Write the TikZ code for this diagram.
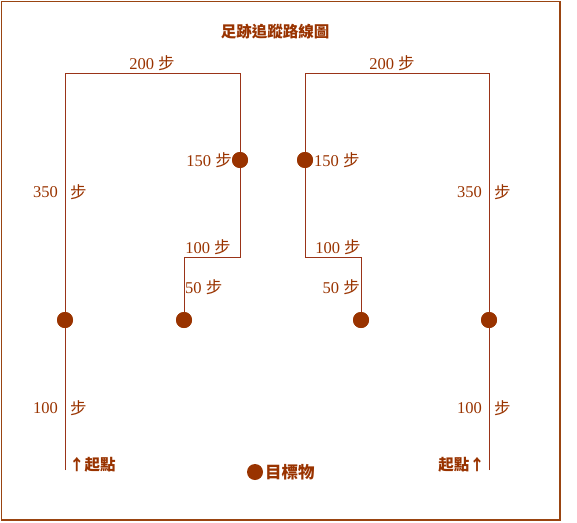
\documentclass[tikz,border=0pt]{standalone}
\usepackage{fontspec}
\setmainfont{Liberation Serif}
\newfontfamily\cjk{Noto Sans CJK TC}
\definecolor{txt}{HTML}{993300}
\definecolor{ln}{HTML}{9A3418}
\definecolor{frm}{HTML}{994411}
\begin{document}
\begin{tikzpicture}[x=1pt,y=-1pt,
  lbl/.style={text=txt,inner sep=0pt,font=\fontsize{16.5}{19}\selectfont},
  blbl/.style={lbl,font=\fontsize{15.5}{18}\selectfont\bfseries},
  dot/.style={circle,fill=txt,draw=none,minimum size=16pt,inner sep=0pt},
  path/.style={draw=ln,line width=1pt}]
\useasboundingbox (0,0) rectangle (577,522);
\draw[frm,line width=1.5pt] (1.5,1.5) rectangle (560,520);
% title
\node[blbl] (title) at (275,32) {\cjk 足跡追蹤路線圖};
% left path
\coordinate (ls) at (65,470);
\coordinate (lc1) at (65,73);
\coordinate (lc2) at (240,73);
\coordinate (lc3) at (240,257);
\coordinate (lc4) at (184,257);
\node[dot] (ld1) at (65,320) {};
\node[dot] (ld2) at (240,160) {};
\node[dot] (ld3) at (184,320) {};
\draw[path] (ls) -- (lc1) -- (lc2) -- (lc3) -- (lc4) -- (ld3.center);
% right path
\coordinate (rs) at (489,470);
\coordinate (rc1) at (489,73);
\coordinate (rc2) at (305,73);
\coordinate (rc3) at (305,257);
\coordinate (rc4) at (361,257);
\node[dot] (rd1) at (489,320) {};
\node[dot] (rd2) at (305,160) {};
\node[dot] (rd3) at (361,320) {};
\draw[path] (rs) -- (rc1) -- (rc2) -- (rc3) -- (rc4) -- (rd3.center);
% redraw dots on top
\foreach \n in {ld1,ld2,ld3,rd1,rd2,rd3} \fill[txt] (\n) circle (8pt);
% labels left
\node[lbl] (l200) at (152,63) {200 {\cjk 步}};
\node[lbl,anchor=east] (l150) at (232,160) {150 {\cjk 步}};
\node[lbl,anchor=east] (l350) at (58,192) {350};
\node[lbl,anchor=west] (l350s) at (70,192) {\cjk 步};
\node[lbl] (l100u) at (208,247) {100 {\cjk 步}};
\node[lbl,anchor=west] (l50) at (185,287) {50 {\cjk 步}};
\node[lbl,anchor=east] (l100) at (58,408) {100};
\node[lbl,anchor=west] (l100s) at (70,408) {\cjk 步};
\node[blbl,anchor=west] (lstart) at (69,465) {\cjk ↑起點};
% labels right
\node[lbl] (r200) at (392,63) {200 {\cjk 步}};
\node[lbl,anchor=west] (r150) at (314,160) {150 {\cjk 步}};
\node[lbl,anchor=east] (r350) at (482,192) {350};
\node[lbl,anchor=west] (r350s) at (494,192) {\cjk 步};
\node[lbl] (r100u) at (338,247) {100 {\cjk 步}};
\node[lbl,anchor=east] (r50) at (360,287) {50 {\cjk 步}};
\node[lbl,anchor=east] (r100) at (482,408) {100};
\node[lbl,anchor=west] (r100s) at (494,408) {\cjk 步};
\node[blbl,anchor=east] (rstart) at (485,465) {\cjk 起點↑};
% target legend
\node[dot] (tdot) at (255,472) {};
\node[blbl,anchor=west,font=\fontsize{16.5}{19}\selectfont\bfseries] (target) at (265,472) {\cjk 目標物};
\end{tikzpicture}
\end{document}
